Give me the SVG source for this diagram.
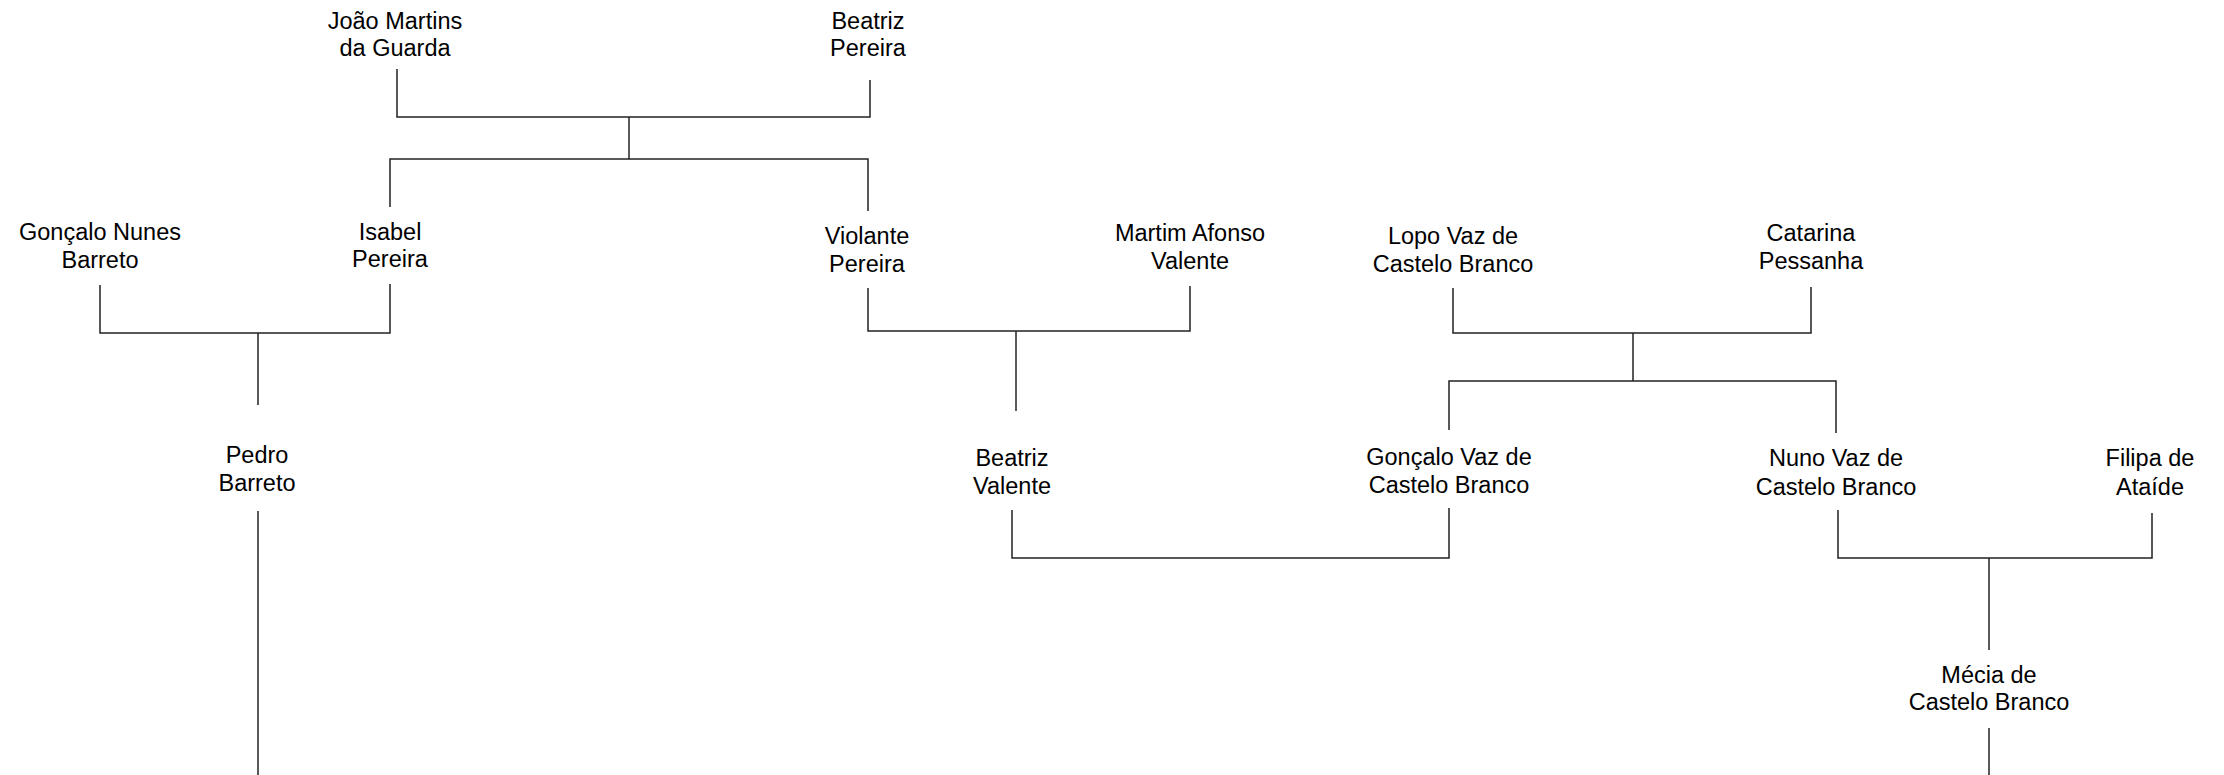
<svg xmlns="http://www.w3.org/2000/svg" width="2224" height="775" viewBox="0 0 2224 775">
<style>
.bg{fill:#ffffff}
.n text{font-family:"Liberation Sans",Arial,sans-serif;font-size:23.5px;fill:#000;text-anchor:middle}
.c path{fill:none;stroke:#222;stroke-width:1.5}
</style>
<rect class="bg" x="0" y="0" width="2224" height="775"/>
<g class="c" id="connectors">
<path d="M397,69 V117 H870 V80"/>
<path d="M629,117 V159"/>
<path d="M390,207 V159 H868 V211"/>
<path d="M100,285 V333 H390 V284"/>
<path d="M258,333 V405"/>
<path d="M258,511 V775"/>
<path d="M868,288 V331 H1190 V286"/>
<path d="M1016,331 V411"/>
<path d="M1453,288 V333 H1811 V287"/>
<path d="M1633,333 V381"/>
<path d="M1449,430 V381 H1836 V433"/>
<path d="M1012,510 V558 H1449 V508"/>
<path d="M1838,510 V558 H2152 V513"/>
<path d="M1989,558 V650"/>
<path d="M1989,728 V775"/>
</g>
<g class="n" id="joao"><text x="395" y="29">João Martins</text><text x="395" y="56">da Guarda</text></g>
<g class="n" id="beatriz-pereira"><text x="868" y="29">Beatriz</text><text x="868" y="56">Pereira</text></g>
<g class="n" id="goncalo-nunes"><text x="100" y="240">Gonçalo Nunes</text><text x="100" y="268">Barreto</text></g>
<g class="n" id="isabel"><text x="390" y="240">Isabel</text><text x="390" y="267">Pereira</text></g>
<g class="n" id="violante"><text x="867" y="244">Violante</text><text x="867" y="272">Pereira</text></g>
<g class="n" id="martim"><text x="1190" y="241">Martim Afonso</text><text x="1190" y="269">Valente</text></g>
<g class="n" id="lopo"><text x="1453" y="244">Lopo Vaz de</text><text x="1453" y="272">Castelo Branco</text></g>
<g class="n" id="catarina"><text x="1811" y="241">Catarina</text><text x="1811" y="269">Pessanha</text></g>
<g class="n" id="pedro"><text x="257" y="463">Pedro</text><text x="257" y="491">Barreto</text></g>
<g class="n" id="beatriz-valente"><text x="1012" y="466">Beatriz</text><text x="1012" y="494">Valente</text></g>
<g class="n" id="goncalo-vaz"><text x="1449" y="465">Gonçalo Vaz de</text><text x="1449" y="493">Castelo Branco</text></g>
<g class="n" id="nuno"><text x="1836" y="466">Nuno Vaz de</text><text x="1836" y="495">Castelo Branco</text></g>
<g class="n" id="filipa"><text x="2150" y="466">Filipa de</text><text x="2150" y="495">Ataíde</text></g>
<g class="n" id="mecia"><text x="1989" y="683">Mécia de</text><text x="1989" y="710">Castelo Branco</text></g>
</svg>
